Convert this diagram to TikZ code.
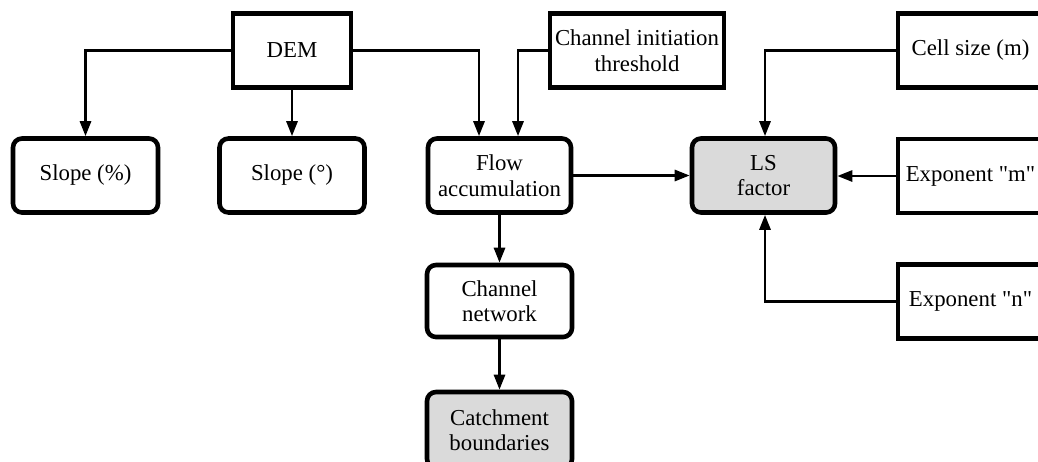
\documentclass[tikz,border=0pt]{standalone}
\usepackage{fontspec}
\setmainfont{Liberation Serif}[Ligatures=TeXOff]
\usetikzlibrary{arrows.meta}
\definecolor{boxgray}{HTML}{DADADA}
\begin{document}
\begin{tikzpicture}[x=1pt,y=-1pt,
  font=\fontsize{22.8}{25.5}\selectfont,
  base/.style={draw=black,line width=4.6pt,align=center,inner sep=0pt,
    minimum width=145pt,minimum height=74pt},
  inbox/.style={base,rounded corners=0pt},
  procbox/.style={base,rounded corners=9pt},
  resbox/.style={procbox,fill=boxgray},
  link/.style={line width=2.8pt,-{Triangle[length=15pt,width=11pt]}}]
\useasboundingbox (0,0) rectangle (1038,461);
\clip (0,0) rectangle (1038,461);

% input data
\node[inbox,minimum width=118pt] (dem) at (292,50.5) {DEM};
\node[inbox,minimum width=174pt] (thr) at (637,50.5) {Channel initiation\\threshold};
\node[inbox] (cell) at (970.5,50.5) {Cell size (m)};
\node[inbox] (expm) at (970.5,176) {Exponent "m"};
\node[inbox] (expn) at (970.5,301.5) {Exponent "n"};

% derived layers
\node[procbox] (slpp) at (85.5,175.5) {Slope (\%)};
\node[procbox] (slpd) at (292,175.5) {Slope (°)};
\node[procbox,minimum width=143pt] (flow) at (499.5,175.5) {Flow\\accumulation};
\node[resbox,minimum width=143pt] (ls) at (763.5,175.5) {LS\\factor};
\node[procbox,minimum height=72pt] (chn) at (499.5,301) {Channel\\network};
\node[resbox,minimum height=76pt] (catch) at (499.5,430) {Catchment\\boundaries};

% connectors
\draw[link] (dem.west) -| (slpp.north);
\draw[link] (dem.south) -- (slpd.north);
\draw[link] (dem.east) -| ([xshift=-20.5pt]flow.north);
\draw[link] (thr.west) -| ([xshift=18.5pt]flow.north);
\draw[link] (cell.west) -| ([xshift=1.5pt]ls.north);
\draw[link] (flow.east) -- (ls.west);
\draw[link] (expm.west) -- (expm.west -| ls.east);
\draw[link] (expn.west) -| ([xshift=1.5pt]ls.south);
\draw[link] (flow.south) -- (chn.north);
\draw[link] (chn.south) -- (catch.north);
\end{tikzpicture}
\end{document}
